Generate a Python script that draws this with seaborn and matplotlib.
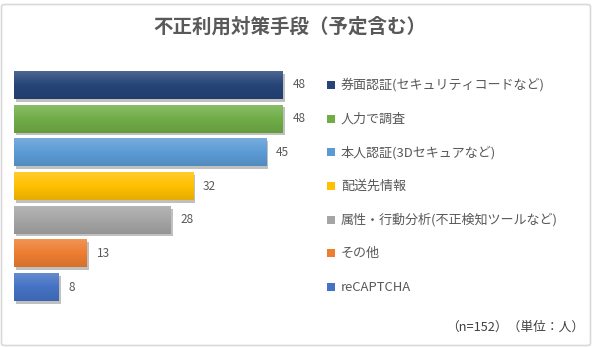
import numpy as np
import pandas as pd
import matplotlib
matplotlib.use("Agg")
import matplotlib.pyplot as plt
import matplotlib.patheffects as pe
from matplotlib.patches import FancyBboxPatch
from matplotlib.colors import to_rgb
import matplotlib.transforms as mtransforms
import seaborn as sns

# ---- data ----
categories = [
    "券面認証(セキュリティコードなど)",
    "人力で調査",
    "本人認証(3Dセキュアなど)",
    "配送先情報",
    "属性・行動分析(不正検知ツールなど)",
    "その他",
    "reCAPTCHA",
]
values = [48, 48, 45, 32, 28, 13, 8]
colors = ["#264478", "#70AD47", "#5B9BD5", "#FFC000", "#A5A5A5", "#ED7D31", "#4472C4"]
title = "不正利用対策手段（予定含む）"
footnote = "（n=152）（単位：人）"

sns.set_theme(style="white")
plt.rcParams["font.family"] = ["Noto Sans CJK JP", "DejaVu Sans"]
TXT = "#595959"

W, H = 600, 348
fig = plt.figure(figsize=(W / 100, H / 100), dpi=100)
fig.patch.set_facecolor("white")

# border
border = FancyBboxPatch((1.5 / W, 2.5 / H), 589 / W, 341 / H,
                        boxstyle="round,pad=0,rounding_size=0.006",
                        transform=fig.transFigure, fill=False,
                        edgecolor="#D9D9D9", linewidth=1.2)
fig.patches.append(border)

ax_left, ax_w = 14 / W, (50 * 269 / 48) / W
ax_top, ax_bot = 68 / H, 304 / H
ax = fig.add_axes([ax_left, 1 - ax_bot, ax_w, ax_bot - ax_top])

df = pd.DataFrame({"category": categories, "value": values})
sns.barplot(data=df, x="value", y="category", hue="category",
            palette=colors, hue_order=categories, order=categories,
            legend=False, dodge=False, width=0.83, ax=ax,
            saturation=1, linewidth=0)

ax.set_xlim(0, 50)
ax.set_ylim(6.5, -0.5)
ax.axis("off")

def mix(c, other, t):
    c = np.array(to_rgb(c)); o = np.array(to_rgb(other))
    return c * (1 - t) + o * t

bars = [p for p in ax.patches]
for p in bars:
    fc = p.get_facecolor()[:3]
    p.set_path_effects([pe.SimplePatchShadow(offset=(1.5, -2), shadow_rgbFace=(0.3, 0.3, 0.3), alpha=0.35), pe.Normal()])
    top = mix(fc, "white", 0.18)
    mid = np.array(fc)
    bot = mix(fc, "black", 0.10)
    n = 64
    t = np.linspace(0, 1, n)[:, None]
    grad = np.where(t < 0.5, top * (1 - t * 2) + mid * (t * 2), mid * (1 - (t - 0.5) * 2) + bot * ((t - 0.5) * 2))
    grad = grad[:, None, :]
    x0, y0 = p.get_x(), p.get_y()
    w, h = p.get_width(), p.get_height()
    im = ax.imshow(grad, extent=(x0, x0 + w, y0 + h, y0), origin="upper",
                   aspect="auto", zorder=p.get_zorder() + 0.1, interpolation="bilinear")
    im.set_clip_path(p)

ax.set_xlim(0, 50)
ax.set_ylim(6.5, -0.5)

for cont in ax.containers:
    ax.bar_label(cont, padding=7, fontsize=8.5, color=TXT)

# legend drawn alongside each bar row
trans = mtransforms.blended_transform_factory(fig.transFigure, ax.transData)
for i, (cat, col) in enumerate(zip(categories, colors)):
    ax.scatter([331 / W], [i], marker="s", s=26, color=col, transform=trans,
               clip_on=False, linewidths=0)
    ax.text(341 / W, i, cat, transform=trans, fontsize=9.4, color=TXT,
            va="center", ha="left")

fig.text(290 / W, 1 - 27 / H, title, ha="center", va="center",
         fontsize=14, fontweight="bold", color=TXT)
fig.text(584 / W, 1 - 327 / H, footnote, ha="right", va="center",
         fontsize=9.2, color="#404040")

fig.savefig("out.png", dpi=100)
